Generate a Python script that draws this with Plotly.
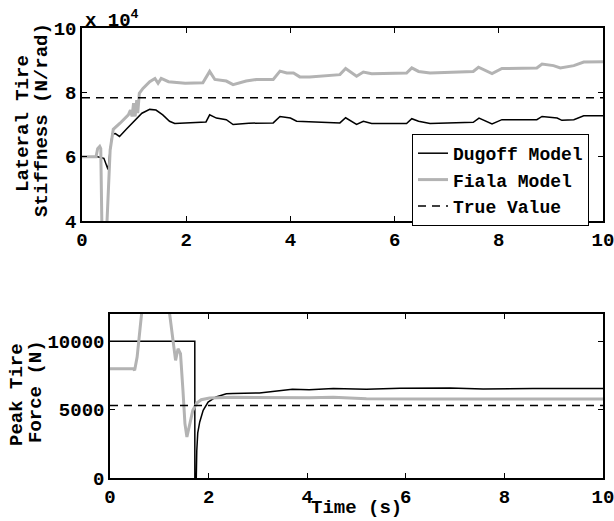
import plotly.graph_objects as go

# ---- Lateral tire stiffness estimates (N/rad) ----
t_dugoff_k = [0, 0.3, 0.42, 0.5, 0.54, 0.58, 0.64, 0.72, 0.85, 1.0, 1.15, 1.3, 1.42, 1.55, 1.68,
              1.78, 2.0, 2.38, 2.45, 2.58, 2.77, 2.9, 3.2, 3.67, 3.8, 4.0, 4.12, 4.37, 4.95, 5.06,
              5.27, 5.4, 5.56, 6.23, 6.33, 6.46, 6.68, 7.51, 7.62, 7.87, 8.06, 8.73, 8.83, 9.12,
              9.21, 9.44, 9.63, 10.0]
k_dugoff = [60000, 60000, 59500, 56000, 62000, 67000, 67200, 66300, 68500, 71000, 73500, 74700,
            74500, 73000, 71000, 70300, 70500, 70800, 73000, 72000, 71500, 70000, 70400, 70500,
            72500, 72000, 71000, 70800, 70500, 72100, 70000, 71000, 70300, 70300, 71800, 71000,
            70300, 70700, 72000, 70200, 71500, 71500, 72500, 72000, 71300, 71500, 72700, 72700]

t_fiala_k = [0, 0.27, 0.30, 0.34, 0.36, 0.385, 0.43, 0.475, 0.54, 0.6, 0.73, 0.89, 0.93, 0.96,
             0.99, 1.02, 1.05, 1.07, 1.1, 1.17, 1.3, 1.4, 1.46, 1.52, 1.66, 1.98, 2.32, 2.45,
             2.55, 2.77, 2.9, 3.15, 3.35, 3.67, 3.8, 3.93, 4.06, 4.18, 4.37, 4.95, 5.06, 5.27,
             5.4, 5.56, 6.23, 6.33, 6.46, 6.68, 7.51, 7.61, 7.87, 8.06, 8.73, 8.83, 9.05, 9.18,
             9.44, 9.63, 10.0]
k_fiala = [60000, 60000, 62500, 63200, 62500, 35000, 30000, 38000, 62000, 68500, 70400, 73000,
           74500, 72500, 76600, 72500, 77600, 73500, 79700, 81200, 83300, 84300, 82800, 84300,
           83300, 82800, 83000, 86500, 84000, 83500, 82400, 83500, 84000, 84000, 86600, 86000,
           86000, 84800, 84800, 85500, 87400, 85000, 86300, 85800, 86000, 87600, 86500, 86000,
           86500, 87800, 85800, 87400, 87600, 88800, 88300, 87600, 88300, 89400, 89500]

k_true = 78300

# ---- Peak tire force estimates (N) ----
t_dugoff_f = [0, 1.72, 1.721, 1.75, 1.76, 1.78, 1.82, 1.89, 1.99, 2.15, 2.36, 2.49, 3.03, 3.43,
              3.7, 4.04, 4.53, 5.2, 5.88, 6.9, 7.57, 8.58, 10.0]
f_dugoff = [10000, 10000, 0, 0, 2000, 3300, 4100, 4950, 5560, 5930, 6170, 6190, 6220, 6370,
            6490, 6460, 6540, 6490, 6560, 6590, 6510, 6540, 6540]

t_fiala_f = [0, 0.47, 0.5, 0.55, 0.64, 0.7, 0.9, 1.1, 1.21, 1.28, 1.33, 1.38, 1.43, 1.48, 1.52,
             1.56, 1.62, 1.68, 1.76, 1.85, 2.02, 2.49, 4.04, 4.53, 5.2, 6.5, 10.0]
f_fiala = [8000, 8000, 7880, 8850, 12000, 13500, 14500, 13500, 12000, 10070, 8610, 9460, 9100,
           6410, 3980, 3000, 3980, 4950, 5490, 5730, 5850, 5900, 5880, 5900, 5800, 5780, 5780]

f_true = 5300

t_span = [0, 10]

# axis tick labels
time_ticks = [0, 2, 4, 6, 8, 10]
k_ticks = [40000, 60000, 80000, 100000]
k_ticktext = ["4", "6", "8", "10"]
f_ticks = [0, 5000, 10000]
f_ticktext = ["0", "5000", "10000"]

FONT = "Liberation Mono"
BLACK = "#000000"
GRAY = "#b3b3b3"
W, H = 614, 521
FS = 19

fig = go.Figure()

# upper panel
fig.add_trace(go.Scatter(x=t_dugoff_k, y=k_dugoff, mode="lines", name="Dugoff Model",
                         line=dict(color=BLACK, width=1.5), xaxis="x", yaxis="y"))
fig.add_trace(go.Scatter(x=t_fiala_k, y=k_fiala, mode="lines", name="Fiala Model",
                         line=dict(color=GRAY, width=3), xaxis="x", yaxis="y"))
fig.add_trace(go.Scatter(x=t_span, y=[k_true] * len(t_span), mode="lines", name="True Value",
                         line=dict(color=BLACK, width=1.5, dash="8px,6px"), xaxis="x", yaxis="y"))

# lower panel
fig.add_trace(go.Scatter(x=t_dugoff_f, y=f_dugoff, mode="lines", showlegend=False,
                         line=dict(color=BLACK, width=1.5), xaxis="x2", yaxis="y2"))
fig.add_trace(go.Scatter(x=t_fiala_f, y=f_fiala, mode="lines", showlegend=False,
                         line=dict(color=GRAY, width=3), xaxis="x2", yaxis="y2"))
fig.add_trace(go.Scatter(x=t_span, y=[f_true] * len(t_span), mode="lines", showlegend=False,
                         line=dict(color=BLACK, width=1.5, dash="8px,6px"), xaxis="x2", yaxis="y2"))

tickfont = dict(family=FONT, size=FS, color=BLACK, weight="bold")
axis_common = dict(showgrid=False, zeroline=False, showline=True, linecolor=BLACK, linewidth=1.5,
                   mirror="allticks", ticks="inside", ticklen=5, tickcolor=BLACK, tickwidth=1,
                   tickfont=tickfont, automargin=False, ticklabeloverflow="allow")

def px_x(a, b):
    return [a / W, b / W]

def px_y(top, bottom):
    return [1 - bottom / H, 1 - top / H]

fig.update_layout(
    width=W, height=H,
    margin=dict(l=0, r=0, t=0, b=0, pad=0, autoexpand=False),
    paper_bgcolor="white", plot_bgcolor="white",
    font=dict(family=FONT, size=FS, color=BLACK, weight="bold"),
    xaxis=dict(domain=px_x(82, 603), range=[0, 10], tickvals=time_ticks,
               anchor="y", **axis_common),
    yaxis=dict(domain=px_y(28, 221), range=[40000, 100000],
               tickvals=k_ticks, ticktext=k_ticktext, anchor="x", **axis_common),
    xaxis2=dict(domain=px_x(110, 603), range=[0, 10], tickvals=time_ticks,
                anchor="y2", **axis_common),
    yaxis2=dict(domain=px_y(314, 478), range=[0, 12000], tickvals=f_ticks,
                ticktext=f_ticktext, anchor="x2", **axis_common),
    legend=dict(x=589 / W, xanchor="right", y=1 - 134 / H, yanchor="top",
                bgcolor="white", bordercolor=BLACK, borderwidth=1,
                font=dict(family=FONT, size=18, color=BLACK, weight="bold"),
                tracegroupgap=0, itemwidth=30),
    showlegend=True,
)

ann_font = dict(family=FONT, size=FS, color=BLACK, weight="bold")
annotations = [
    dict(text="x 10<sup>4</sup>", x=83 / W, y=1 - 19 / H, xanchor="left", yanchor="middle"),
    dict(text="Lateral Tire", x=23 / W, y=1 - 124 / H, textangle=-90,
         xanchor="center", yanchor="middle"),
    dict(text="Stiffness (N/rad)", x=42 / W, y=1 - 120 / H, textangle=-90,
         xanchor="center", yanchor="middle"),
    dict(text="Peak Tire", x=17 / W, y=1 - 395 / H, textangle=-90,
         xanchor="center", yanchor="middle"),
    dict(text="Force (N)", x=36 / W, y=1 - 392 / H, textangle=-90,
         xanchor="center", yanchor="middle"),
    dict(text="Time (s)", x=356 / W, y=1 - 508 / H, xanchor="center", yanchor="middle"),
]
for a in annotations:
    a.update(xref="paper", yref="paper", showarrow=False, font=ann_font)
fig.update_layout(annotations=annotations)

fig.write_html("out.html")
